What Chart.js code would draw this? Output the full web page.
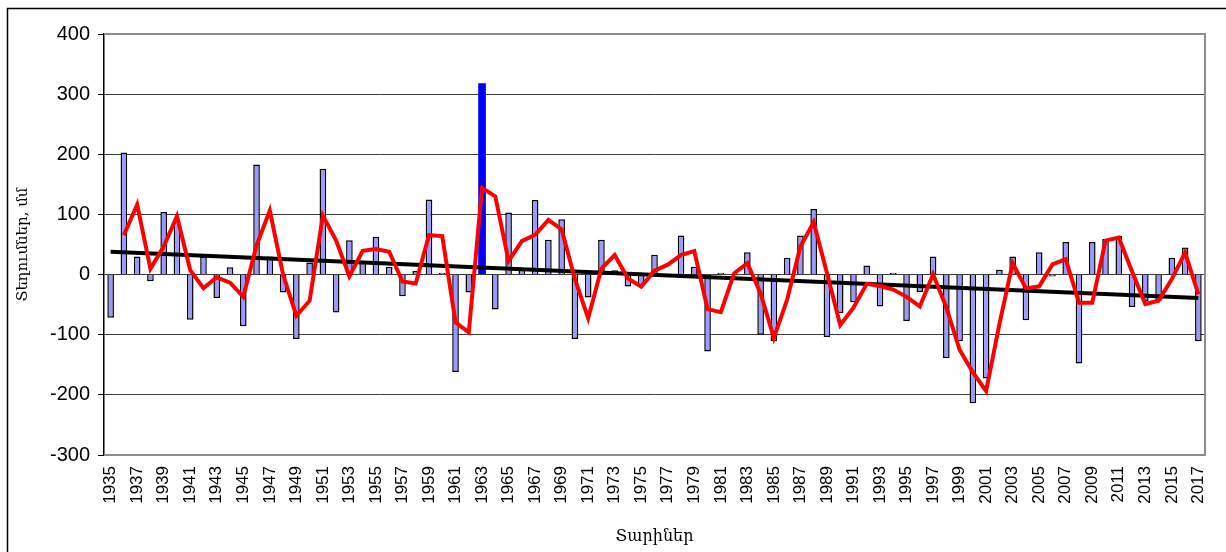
<!DOCTYPE html>
<html>
<head>
<meta charset="utf-8">
<script src="https://cdn.jsdelivr.net/npm/chart.js@4/dist/chart.umd.min.js"></script>
<style>
  body { margin: 0; background: #fff; }
  #wrap { width: 1226px; height: 552px; }
</style>
</head>
<body>
<div id="wrap"><canvas id="myChart" width="1226" height="552"></canvas></div>
<script>
const years = [];
for (let y = 1935; y <= 2017; y++) years.push(String(y));

// precipitation anomaly, mm (bars)
const anomaly = [
    -72, 203, 30, -11, 104, 90, -75, 30, -39, 12,      // 1935-1944
    -86, 183, 30, -30, -107, 20, 176, -63, 57, 22,     // 1945-1954
    63, 13, -36, 6, 125, 3, -162, -30, null, -58,      // 1955-1964 (1963 drawn separately)
    103, 8, 124, 58, 92, -107, -38, 58, 7, -20,        // 1965-1974
    -20, 33, 1, 65, 13, -128, 3, 1, 37, -100,          // 1975-1984
    -111, 28, 65, 109, -104, -64, -46, 15, -53, 3,     // 1985-1994
    -77, -29, 30, -139, -111, -214, -173, 8, 30, -76,  // 1995-2004
    37, -3, 54, -148, 54, 59, 64, -54, -44, -43,       // 2005-2014
    28, 45, -111                                       // 2015-2017
];

// highlighted year
const peakYear = "1963";
const peakValue = 318;

// red line, 2-year moving average
const movingAvg = [
    null, 65.5, 116.5, 9.5, 46.5, 97, 7.5, -22.5, -4.5, -13.5,
    -37, 48.5, 106.5, 0, -68.5, -43.5, 98, 56.5, -3, 39.5,
    42.5, 38, -11.5, -15, 65.5, 64, -79.5, -96, 144, 130,
    22.5, 55.5, 66, 91, 75, -7.5, -72.5, 10, 32.5, -6.5,
    -20, 6.5, 16.5, 32.5, 39, -57.5, -62.5, 2, 19, -31.5,
    -105.5, -41.5, 46.5, 87, 2.5, -84, -55, -15.5, -19, -25,
    -37, -53, 0.5, -54.5, -125, -162.5, -193.5, -82.5, 19, -23,
    -19.5, 17, 25.5, -47, -47, 56.5, 61.5, 5, -49, -43.5,
    -7.5, 36.5, -33
];

// linear trend end points
const trendStart = 38;
const trendEnd = -39;

const yTicks = { min: -300, max: 400, step: 100 };

const frame = {
    id: "frame",
    beforeDatasetsDraw(chart) {
        const { ctx, chartArea: a } = chart;
        ctx.save();
        ctx.strokeStyle = "#8c8c8c";
        ctx.lineWidth = 2;
        ctx.beginPath();
        ctx.moveTo(a.left, a.top);
        ctx.lineTo(a.right, a.top);
        ctx.lineTo(a.right, a.bottom);
        ctx.lineTo(a.left, a.bottom);
        ctx.stroke();
        ctx.restore();
    },
    afterDraw(chart) {
        const ctx = chart.ctx;
        ctx.save();
        ctx.strokeStyle = "#000";
        ctx.lineWidth = 1.5;
        ctx.beginPath();
        ctx.moveTo(7.5, 560);
        ctx.lineTo(7.5, 8.5);
        ctx.lineTo(1230, 8.5);
        ctx.stroke();
        ctx.restore();
    }
};

const ctx = document.getElementById("myChart").getContext("2d");
const chart = new Chart(ctx, {
    data: {
        labels: years,
        datasets: [
            {
                type: "line",
                data: movingAvg,
                borderColor: "#ff0000",
                borderWidth: 4,
                pointRadius: 0,
                tension: 0,
                order: 0
            },
            {
                type: "line",
                data: [{ x: years[0], y: trendStart }, { x: years[years.length - 1], y: trendEnd }],
                borderColor: "#000000",
                borderWidth: 4,
                pointRadius: 0,
                order: 1
            },
            {
                type: "bar",
                data: anomaly,
                backgroundColor: "#9999ff",
                borderColor: "#000000",
                borderWidth: 1.5,
                barPercentage: 0.5,
                categoryPercentage: 1,
                grouped: false,
                order: 2
            },
            {
                type: "bar",
                data: [{ x: peakYear, y: peakValue }],
                backgroundColor: "#0000ff",
                borderWidth: 0,
                barPercentage: 0.58,
                categoryPercentage: 1,
                grouped: false,
                order: 3
            }
        ]
    },
    options: {
        responsive: false,
        animation: false,
        layout: { padding: { top: 34, right: 21, left: 0, bottom: 0 } },
        plugins: { legend: { display: false }, tooltip: { enabled: false } },
        scales: {
            x: {
                afterFit: (s) => { s.height = 97; },
                grid: { display: false },
                border: { display: false },
                ticks: {
                    autoSkip: false,
                    maxRotation: 90,
                    minRotation: 90,
                    padding: 3,
                    color: "#000",
                    font: { family: "Liberation Sans, Arial", size: 17 },
                    callback: function (v, i) { return i % 2 === 0 ? this.getLabelForValue(v) : ""; }
                },
                title: {
                    display: true,
                    text: "Տարիներ",
                    color: "#000",
                    font: { family: "DejaVu Serif", size: 16 },
                    padding: { top: 0, bottom: 6 }
                }
            },
            y: {
                min: yTicks.min,
                max: yTicks.max,
                afterFit: (s) => { s.width = 104; },
                grid: { color: "#3c3c3c", lineWidth: 1, tickLength: 6, tickColor: "#000" },
                border: { color: "#000", width: 1.5 },
                ticks: {
                    stepSize: yTicks.step,
                    padding: 8,
                    color: "#000",
                    font: { family: "Liberation Sans, Arial", size: 20 }
                },
                title: {
                    display: true,
                    text: "Տեղումներ, մմ",
                    color: "#000",
                    font: { family: "DejaVu Serif", size: 15 },
                    padding: { top: 14, bottom: 0 }
                }
            }
        }
    },
    plugins: [frame]
});
</script>
</body>
</html>
